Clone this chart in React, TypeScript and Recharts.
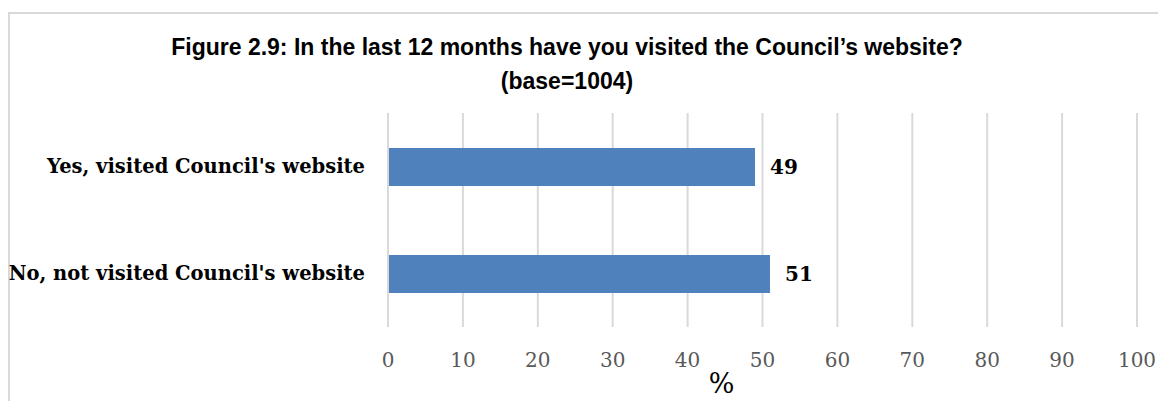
import { BarChart, Bar, XAxis, YAxis, CartesianGrid, LabelList } from 'recharts';

const categories = ["Yes, visited Council's website", "No, not visited Council's website"];
const percentages = [49, 51];
const xTicks = [0, 10, 20, 30, 40, 50, 60, 70, 80, 90, 100];
const titleLines = ['Figure 2.9: In the last 12 months have you visited the Council\u2019s website?', '(base=1004)'];

const data = categories.map((name, i) => ({ name, value: percentages[i] }));

const SERIF = "'DejaVu Serif', 'Liberation Serif', serif";

export default function App() {
  return (
    <div
      style={{
        position: 'fixed',
        left: 8,
        top: 12,
        width: 1148,
        height: 387,
        borderLeft: '2px solid #d9d9d9',
        borderTop: '2px solid #d9d9d9',
        background: '#fff',
      }}
    >
      <style>{'.recharts-surface{overflow:visible}'}</style>
      <div
        style={{
          position: 'absolute',
          left: 0,
          top: 16,
          width: 1114,
          textAlign: 'center',
          fontFamily: "'Liberation Sans', Arial, sans-serif",
          fontWeight: 'bold',
          fontSize: 23,
          lineHeight: '34px',
          color: '#000',
        }}
      >
        {titleLines.map((t) => (
          <div key={t}>{t}</div>
        ))}
      </div>
      <BarChart
        layout="vertical"
        width={1148}
        height={387}
        data={data}
        margin={{ top: 99, right: 21, bottom: 8, left: 0 }}
        barSize={38}
      >
        <CartesianGrid horizontal={false} stroke="#d9d9d9" strokeWidth={2} />
        <XAxis
          type="number"
          domain={[0, 100]}
          ticks={xTicks}
          interval={0}
          axisLine={false}
          tickLine={false}
          tickSize={0}
          tickMargin={26}
          height={66}
          tick={{ fill: '#595959', fontSize: 20, fontFamily: SERIF }}
          label={{ value: '%', position: 'insideBottom', dx: -41, offset: 0, fill: '#000', fontSize: 27, fontFamily: SERIF }}
        />
        <YAxis
          type="category"
          dataKey="name"
          width={378}
          axisLine={{ stroke: '#d9d9d9', strokeWidth: 2 }}
          tickLine={false}
          tickSize={0}
          tickMargin={23}
          tick={{ fill: '#000', fontSize: 19.5, fontWeight: 'bold', fontFamily: SERIF }}
        />
        <Bar dataKey="value" fill="#4f81bd" isAnimationActive={false}>
          <LabelList
            dataKey="value"
            position="right"
            offset={15}
            fill="#000"
            fontSize={20}
            fontWeight="bold"
            fontFamily={SERIF}
          />
        </Bar>
      </BarChart>
    </div>
  );
}
